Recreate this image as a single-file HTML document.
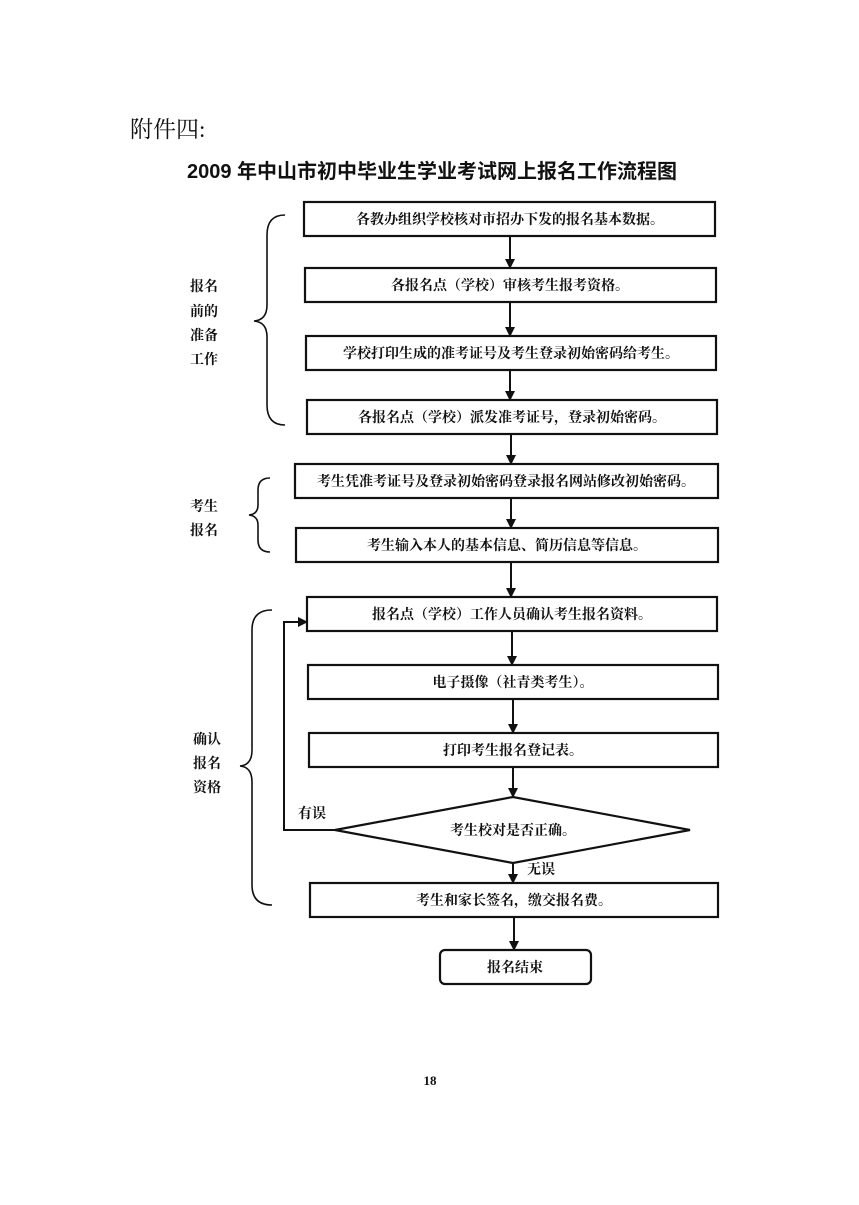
<!DOCTYPE html>
<html><head><meta charset="utf-8"><style>
body{margin:0;background:#fff;}
svg text{font-family:"Liberation Serif","Noto Serif CJK SC","Noto Sans CJK SC",serif;fill:#111;}
</style></head><body>
<svg width="859" height="1200" viewBox="0 0 859 1200" xmlns="http://www.w3.org/2000/svg">
<defs><marker id="a" markerWidth="10" markerHeight="10" refX="9" refY="5" orient="auto" markerUnits="userSpaceOnUse"><path d="M0,0 L10,5 L0,10 z" fill="#111"/></marker></defs>
<text x="130" y="137" font-size="23">附件四:</text>
<text x="432" y="178" font-size="20" font-weight="bold" text-anchor="middle" style="font-family:'Liberation Sans','Noto Sans CJK SC',sans-serif">2009 年中山市初中毕业生学业考试网上报名工作流程图</text>
<g fill="none" stroke="#111" stroke-width="2.2">
<rect x="304" y="202" width="411" height="34"/>
<rect x="305" y="268" width="411" height="34"/>
<rect x="306" y="336" width="410" height="34"/>
<rect x="307" y="400" width="410" height="34"/>
<rect x="295" y="464" width="423" height="34"/>
<rect x="296" y="528" width="422" height="34"/>
<rect x="307" y="597" width="410" height="34"/>
<rect x="308" y="665" width="410" height="34"/>
<rect x="309" y="733" width="409" height="34"/>
<polygon points="335,830 513,797 690,830 513,863"/>
<rect x="310" y="883" width="408" height="34"/>
<rect x="440" y="950" width="151" height="34" rx="5"/>
</g>
<g stroke="#111" stroke-width="2" fill="none" marker-end="url(#a)">
<line x1="510" y1="236" x2="510" y2="268"/>
<line x1="510" y1="302" x2="510" y2="336"/>
<line x1="510" y1="370" x2="510" y2="400"/>
<line x1="511" y1="434" x2="511" y2="464"/>
<line x1="511" y1="498" x2="511" y2="528"/>
<line x1="511" y1="562" x2="511" y2="597"/>
<line x1="512" y1="631" x2="512" y2="665"/>
<line x1="513" y1="699" x2="513" y2="733"/>
<line x1="513" y1="767" x2="513" y2="797"/>
<line x1="513" y1="863" x2="513" y2="883"/>
<line x1="514" y1="917" x2="514" y2="950"/>
<polyline points="335,830 284,830 284,622 307,622"/>
</g>
<g stroke="#111" stroke-width="1.6" fill="none">
<path d="M285,215 Q267,215 267,235 L267,305 Q267,320 254,321 Q267,322 267,337 L267,405 Q267,425 285,425"/>
<path d="M270,478 Q258,478 258,490 L258,505 Q258,514 249,515 Q258,516 258,525 L258,540 Q258,552 270,552"/>
<path d="M272,610 Q252,610 252,630 L252,750 Q252,765 240,766 Q252,767 252,782 L252,885 Q252,905 272,905"/>
</g>
<g font-size="14" text-anchor="middle" font-weight="bold">
<text x="510" y="224">各教办组织学校核对市招办下发的报名基本数据。</text>
<text x="510" y="290">各报名点（学校）审核考生报考资格。</text>
<text x="511" y="358">学校打印生成的准考证号及考生登录初始密码给考生。</text>
<text x="512" y="422">各报名点（学校）派发准考证号，登录初始密码。</text>
<text x="506" y="486">考生凭准考证号及登录初始密码登录报名网站修改初始密码。</text>
<text x="507" y="550">考生输入本人的基本信息、简历信息等信息。</text>
<text x="512" y="619">报名点（学校）工作人员确认考生报名资料。</text>
<text x="513" y="687">电子摄像（社青类考生）。</text>
<text x="513" y="755">打印考生报名登记表。</text>
<text x="513" y="835">考生校对是否正确。</text>
<text x="514" y="905">考生和家长签名，缴交报名费。</text>
<text x="515" y="972">报名结束</text>
</g>
<g font-size="14" font-weight="bold">
<text x="298" y="818">有误</text>
<text x="527" y="874">无误</text>
<text x="190" y="291">报名</text>
<text x="190" y="316">前的</text>
<text x="190" y="340">准备</text>
<text x="190" y="364">工作</text>
<text x="190" y="511">考生</text>
<text x="190" y="535">报名</text>
<text x="193" y="744">确认</text>
<text x="193" y="768">报名</text>
<text x="193" y="792">资格</text>
</g>
<text x="430" y="1085" font-size="13" text-anchor="middle" font-weight="bold">18</text>
</svg>
</body></html>
